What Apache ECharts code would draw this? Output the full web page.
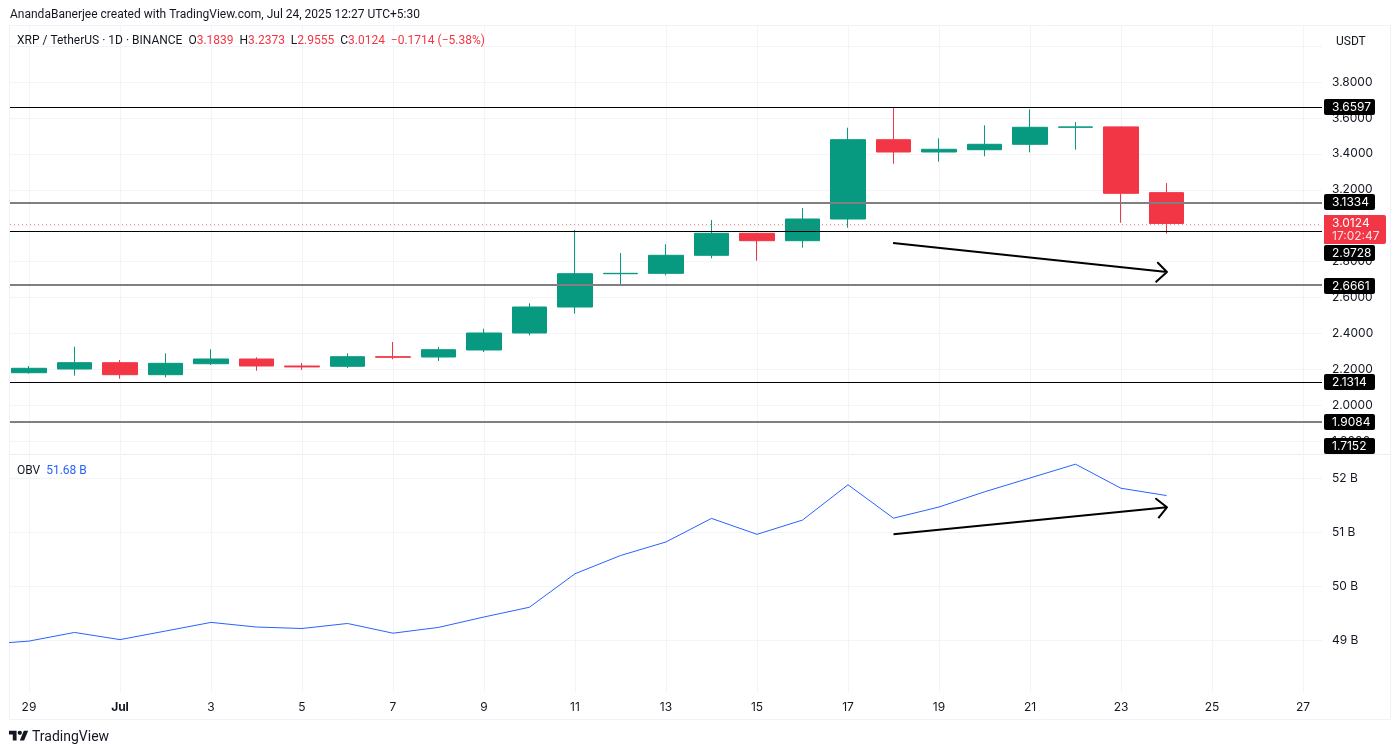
<!DOCTYPE html>
<html>
<head>
<meta charset="utf-8">
<title>XRP / TetherUS</title>
<script src="https://cdn.jsdelivr.net/npm/echarts@6/dist/echarts.min.js"></script>
<style>
body{margin:0;background:#fff;}
#chart{width:1400px;height:752px;}
</style>
</head>
<body>
<div id="chart"></div>
<script>
let font="Inter";
let headFont="Roboto";
let ink="#131722";
let up="#089981";
let down="#F23645";
let blue="#2962FF";
let grid="#f3f4f8";

// index 0 = Jun 29, one row per day: open, close, low, high
let candles=[
    [2.1814,2.2059,2.1758,2.2187],
    [2.2020,2.2371,2.1647,2.3262],
    [2.2371,2.1703,2.1480,2.2521],
    [2.1703,2.2337,2.1558,2.2894],
    [2.2315,2.2577,2.2243,2.3117],
    [2.2577,2.2187,2.1925,2.2671],
    [2.2187,2.2135,2.1964,2.2354],
    [2.2170,2.2705,2.2076,2.2894],
    [2.2705,2.2671,2.2560,2.3523],
    [2.2688,2.3094,2.2465,2.3245],
    [2.3078,2.4024,2.2966,2.4264],
    [2.4024,2.5472,2.3896,2.5678],
    [2.5472,2.7326,2.5099,2.9759],
    [2.7326,2.7348,2.6641,2.8479],
    [2.7348,2.8351,2.7237,2.8963],
    [2.8351,2.9576,2.8184,3.0316],
    [2.9576,2.9164,2.8050,2.9600],
    [2.9164,3.0372,2.8774,3.0984],
    [3.0372,3.4787,2.9887,3.5455],
    [3.4787,3.4102,3.3451,3.6597],
    [3.4102,3.4253,3.3562,3.4865],
    [3.4230,3.4531,3.3863,3.5589],
    [3.4531,3.5478,3.4086,3.6480],
    [3.5478,3.5500,3.4230,3.5773],
    [3.5500,3.1803,3.0166,3.5520],
    [3.1839,3.0124,2.9555,3.2373]
];
let obv=[48.915,48.98,49.14,49.007,49.166,49.326,49.24,49.213,49.306,49.126,49.233,49.426,49.607,50.227,50.564,50.816,51.252,50.957,51.221,51.875,51.256,51.463,51.744,52.0,52.256,51.81,51.675];

// dy moves the tag away from its line when tags would collide
let levels=[
    {v:3.6597,dy:0,thick:false},
    {v:3.1334,dy:0,thick:true},
    {v:2.9728,dy:22,thick:false},
    {v:2.6661,dy:0,thick:true},
    {v:2.1314,dy:0,thick:false},
    {v:1.9084,dy:0,thick:true},
    {v:1.7152,dy:-10,thick:false}
];
let last=3.0124;

let priceArrow=[[18.99,2.9035],[25.01,2.7421],[24.81,2.7939],[25.01,2.7421],[24.76,2.6847]];
let obvArrow=[[19,50.957],[25.01,51.457],[24.77,51.617],[25.01,51.457],[24.82,51.259]];

let priceTicks=[1.8,2,2.2,2.4,2.6,2.8,3,3.2,3.4,3.6,3.8,4];
let priceLabels=[1.8,2,2.2,2.4,2.6,2.8,3.2,3.4,3.6,3.8];
let obvTicks=[49,50,51,52];
let dayTicks=[];
for(let i=0;i<=28;i+=2){dayTicks.push(i);}

function dayLabel(i){
    let d=new Date(Date.UTC(2025,5,29+i));
    if(d.getUTCDate()==1){return "{b|Jul}";}
    return String(d.getUTCDate());
}

let xMin=(10-29)/45.5;
let xMax=(1322-29)/45.5;
let splitLine={show:true,lineStyle:{color:grid,width:1}};

let option={
    animation:false,
    backgroundColor:"#fff",
    textStyle:{fontFamily:font},
    title:[
        {left:10,top:9,padding:0,text:"AnandaBanerjee created with TradingView.com, Jul 24, 2025 12:27 UTC+5:30",
            textStyle:{fontSize:12,fontWeight:"normal",color:ink,fontFamily:headFont}},
        {left:17,top:35,padding:0,
            text:"{k|XRP / TetherUS · 1D · BINANCE  O}{r|3.1839}{k|  H}{r|3.2373}{k|  L}{r|2.9555}{k|  C}{r|3.0124}{r|  −0.1714 (−5.38%)}",
            textStyle:{fontWeight:"normal",rich:{
                k:{fontSize:12,fontWeight:"normal",color:ink,fontFamily:headFont},
                r:{fontSize:12,fontWeight:"normal",color:down,fontFamily:headFont}
            }}},
        {left:17,top:465,padding:0,text:"{k|OBV}{b|  51.68 B}",
            textStyle:{fontWeight:"normal",rich:{
                k:{fontSize:12,fontWeight:"normal",color:ink,fontFamily:headFont},
                b:{fontSize:12,fontWeight:"normal",color:blue,fontFamily:headFont}
            }}},
        {left:1336,top:36,padding:0,text:"USDT",
            textStyle:{fontSize:12,fontWeight:"normal",color:ink,fontFamily:headFont}},
        {left:32,top:730,padding:0,text:"TradingView",
            textStyle:{fontSize:14,fontWeight:"normal",color:ink,fontFamily:headFont}}
    ],
    grid:[
        {left:10,width:1312,top:26,height:429},
        {left:10,width:1312,top:455,height:237}
    ],
    xAxis:[
        {type:"value",gridIndex:0,min:xMin,max:xMax,
            axisLine:{show:false},axisLabel:{show:false},
            axisTick:{show:false,customValues:dayTicks},splitLine:splitLine},
        {type:"value",gridIndex:1,min:xMin,max:xMax,
            axisLine:{show:false},
            axisTick:{show:false,customValues:dayTicks},splitLine:splitLine,
            axisLabel:{customValues:dayTicks,margin:9,fontSize:12,color:ink,fontFamily:font,
                formatter:dayLabel,
                rich:{b:{fontSize:12,fontWeight:"bold",color:ink,fontFamily:font}}}}
    ],
    yAxis:[
        {type:"value",gridIndex:0,position:"right",min:1.7232,max:4.1118,
            axisLine:{show:false},
            axisTick:{show:false,customValues:priceTicks},splitLine:splitLine,
            axisLabel:{customValues:priceLabels,margin:10,fontSize:12,color:ink,fontFamily:font,
                formatter:function(v){return v.toFixed(4);}}},
        {type:"value",gridIndex:1,position:"right",min:48.037,max:52.426,
            axisLine:{show:false},
            axisTick:{show:false,customValues:obvTicks},splitLine:splitLine,
            axisLabel:{customValues:obvTicks,margin:10,fontSize:12,color:ink,fontFamily:font,
                formatter:function(v){return v+" B";}}}
    ],
    series:[
        {
            type:"candlestick",
            xAxisIndex:0,yAxisIndex:0,
            barWidth:35,
            data:candles.map(function(c,i){return [i,c[0],c[1],c[2],c[3]];}),
            itemStyle:{color:up,color0:down,borderColor:up,borderColor0:down,borderWidth:1},
            markLine:{
                silent:true,
                symbol:"none",
                label:{show:false},
                animation:false,
                data:levels.slice(0,6).map(function(l){
                    return {yAxis:l.v,lineStyle:l.thick
                        ?{color:"#808080",width:2,type:"solid"}
                        :{color:"#000",width:1,type:"solid"}};
                }).concat([{yAxis:last,lineStyle:{color:down,width:1,type:[1,3],opacity:0.6}}])
            }
        },
        {type:"line",xAxisIndex:0,yAxisIndex:0,data:priceArrow,showSymbol:false,z:6,
            lineStyle:{color:"#000",width:2,join:"round"}},
        {type:"line",xAxisIndex:1,yAxisIndex:1,showSymbol:false,
            data:obv.map(function(v,i){return [i-1,v];}),
            lineStyle:{color:blue,width:1}},
        {type:"line",xAxisIndex:1,yAxisIndex:1,data:obvArrow,showSymbol:false,z:6,
            lineStyle:{color:"#000",width:2,join:"round"}}
    ]
};

let myChart=echarts.init(document.getElementById("chart"));
myChart.setOption(option);

// frame, pane divider, logo and the price tags on the right
let logo={silent:true,x:9,y:728.5,scaleX:0.54,scaleY:0.54,style:{fill:ink}};
let shapes=[
    {type:"rect",silent:true,z:-1,shape:{x:9.5,y:25.5,width:1381,height:694},
        style:{fill:"none",stroke:"#f0f3fa",lineWidth:1}},
    {type:"line",silent:true,z:-1,shape:{x1:10,y1:454.5,x2:1390,y2:454.5},
        style:{stroke:"#eceef4",lineWidth:1}},
    Object.assign({type:"polygon",shape:{points:[[0,4],[14,4],[14,22],[7,22],[7,11],[0,11]]}},logo),
    Object.assign({type:"polygon",shape:{points:[[27.5,4],[35.5,4],[28,22],[20,22]]}},logo),
    Object.assign({type:"circle",shape:{cx:20,cy:8,r:4}},logo)
];
levels.forEach(function(l){
    let y=myChart.convertToPixel({gridIndex:0},[0,l.v])[1]+l.dy;
    shapes.push({type:"rect",silent:true,z:10,shape:{x:1324,y:Math.round(y)-8,width:51,height:16,r:2},style:{fill:"#000"}});
    shapes.push({type:"text",silent:true,z:11,x:1332,y:Math.round(y),
        style:{text:l.v.toFixed(4),fill:"#fff",font:"12px "+font,verticalAlign:"middle"}});
});
shapes.push({type:"rect",silent:true,z:10,shape:{x:1324,y:215,width:62,height:29,r:[0,2,2,0]},style:{fill:down}});
shapes.push({type:"text",silent:true,z:11,x:1332,y:223,
    style:{text:last.toFixed(4),fill:"#fff",font:"12px "+font,verticalAlign:"middle"}});
shapes.push({type:"text",silent:true,z:11,x:1332,y:236,
    style:{text:"17:02:47",fill:"#fff",opacity:0.85,font:"12px "+font,verticalAlign:"middle"}});
myChart.setOption({graphic:shapes});
</script>
</body>
</html>
